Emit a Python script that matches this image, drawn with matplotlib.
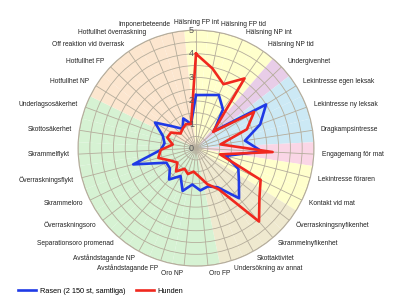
import numpy as np
import matplotlib
matplotlib.use('Agg')
import matplotlib.pyplot as plt
from matplotlib.lines import Line2D

plt.rcParams['font.family'] = ['Liberation Sans', 'DejaVu Sans']

# Categories, clockwise from the top
categories = [
    'Hälsning FP int', 'Hälsning FP tid', 'Hälsning NP int', 'Hälsning NP tid',
    'Undergivenhet', 'Lekintresse egen leksak', 'Lekintresse ny leksak',
    'Dragkampsintresse', 'Engagemang för mat', 'Lekintresse föraren',
    'Kontakt vid mat', 'Överraskningsnyfikenhet', 'Skrammelnyfikenhet',
    'Skottaktivitet', 'Undersökning av annat', 'Oro FP', 'Oro NP',
    'Avståndstagande FP', 'Avståndstagande NP', 'Separationsoro promenad',
    'Överraskningsoro', 'Skrammeloro', 'Överraskningsflykt', 'Skrammelflykt',
    'Skottosäkerhet', 'Underlagsosäkerhet', 'Hotfullhet NP', 'Hotfullhet FP',
    'Off reaktion vid överrask', 'Hotfullhet överraskning', 'Imponerbeteende',
]

# Rasen (breed average) and Hunden (this dog)
rasen = [2.25, 2.3, 2.45, 2.0, 1.05, 3.5, 2.9, 2.1, 2.8, 1.3, 2.0, 2.3, 2.8,
         1.9, 1.7, 1.8, 1.55, 1.9, 1.35, 1.75, 1.4, 1.4, 2.75, 1.5, 1.35,
         1.5, 2.05, 1.33, 1.0, 1.37, 1.05]
hunden = [4.0, 3.45, 2.95, 3.6, 1.0, 2.9, 2.3, 1.05, 3.25, 1.05, 3.05, 3.4,
          4.1, 2.0, 1.6, 1.2, 1.0, 1.15, 1.0, 1.3, 1.0, 1.2, 1.65, 1.5, 1.0,
          1.3, 1.25, 0.9, 1.0, 1.1, 1.05]

# background groups (number of categories in each group)
group_sizes = [4, 1, 3, 1, 2, 4, 11, 5]
group_colors = ['#ffffcc', '#e8cde8', '#cce9f5', '#fad6e6', '#ffffcc',
                '#efe9cf', '#d6f2d3', '#fce6cf']

n = len(categories)
angles = np.arange(n) * 2 * np.pi / n
sector_colors = []
for size, col in zip(group_sizes, group_colors):
    sector_colors += [col] * size

fig = plt.figure(figsize=(3.94, 3.08), dpi=100)
ax = fig.add_axes([0.198, 0.136, 0.599, 0.766], projection='polar')
ax.set_theta_zero_location('N')
ax.set_theta_direction(-1)

ax.bar(angles, 5, width=2 * np.pi / n, color=sector_colors, edgecolor='none',
       align='center', zorder=0)

ax.set_ylim(0, 5)
ax.set_yticks(np.arange(0.5, 5.01, 0.5))
ax.set_yticklabels([])
ax.set_xticks(angles)
ax.set_xticklabels([])
ax.grid(True, color='#b5ad9c', linewidth=0.6)
ax.spines['polar'].set_color('#b5ad9c')
ax.spines['polar'].set_linewidth(0.8)
ax.tick_params(length=0)

closed = np.append(angles, angles[0])
ax.plot(closed, rasen + rasen[:1], color='#1f3ae6', linewidth=1.9, zorder=3)
ax.plot(closed, hunden + hunden[:1], color='#f0281e', linewidth=1.9, zorder=4)

# radial tick labels along the top spoke
for k in range(6):
    ax.annotate(str(k), xy=(0, k), xytext=(-1.5, 0), textcoords='offset points',
                ha='right', va='center', fontsize=6.5, color='#555555', zorder=5)

# category labels
for ang, lab in zip(angles, categories):
    s = np.sin(ang)
    if abs(s) < 0.05:
        ha = 'center'
    elif s > 0:
        ha = 'left'
    else:
        ha = 'right'
    ax.text(ang, 5.34, lab, ha=ha, va='center', fontsize=4.8, color='#222222')

# legend
handles = [Line2D([], [], color='#1f3ae6', linewidth=1.9),
           Line2D([], [], color='#f0281e', linewidth=1.9)]
fig.legend(handles, ['Rasen (2 150 st, samtliga)', 'Hunden'],
           loc='center left', bbox_to_anchor=(0.03, 0.055), ncol=2, frameon=False,
           fontsize=5.3, handlelength=2.4, handletextpad=0.5, columnspacing=1.5)

fig.savefig('out.png', dpi=100)
